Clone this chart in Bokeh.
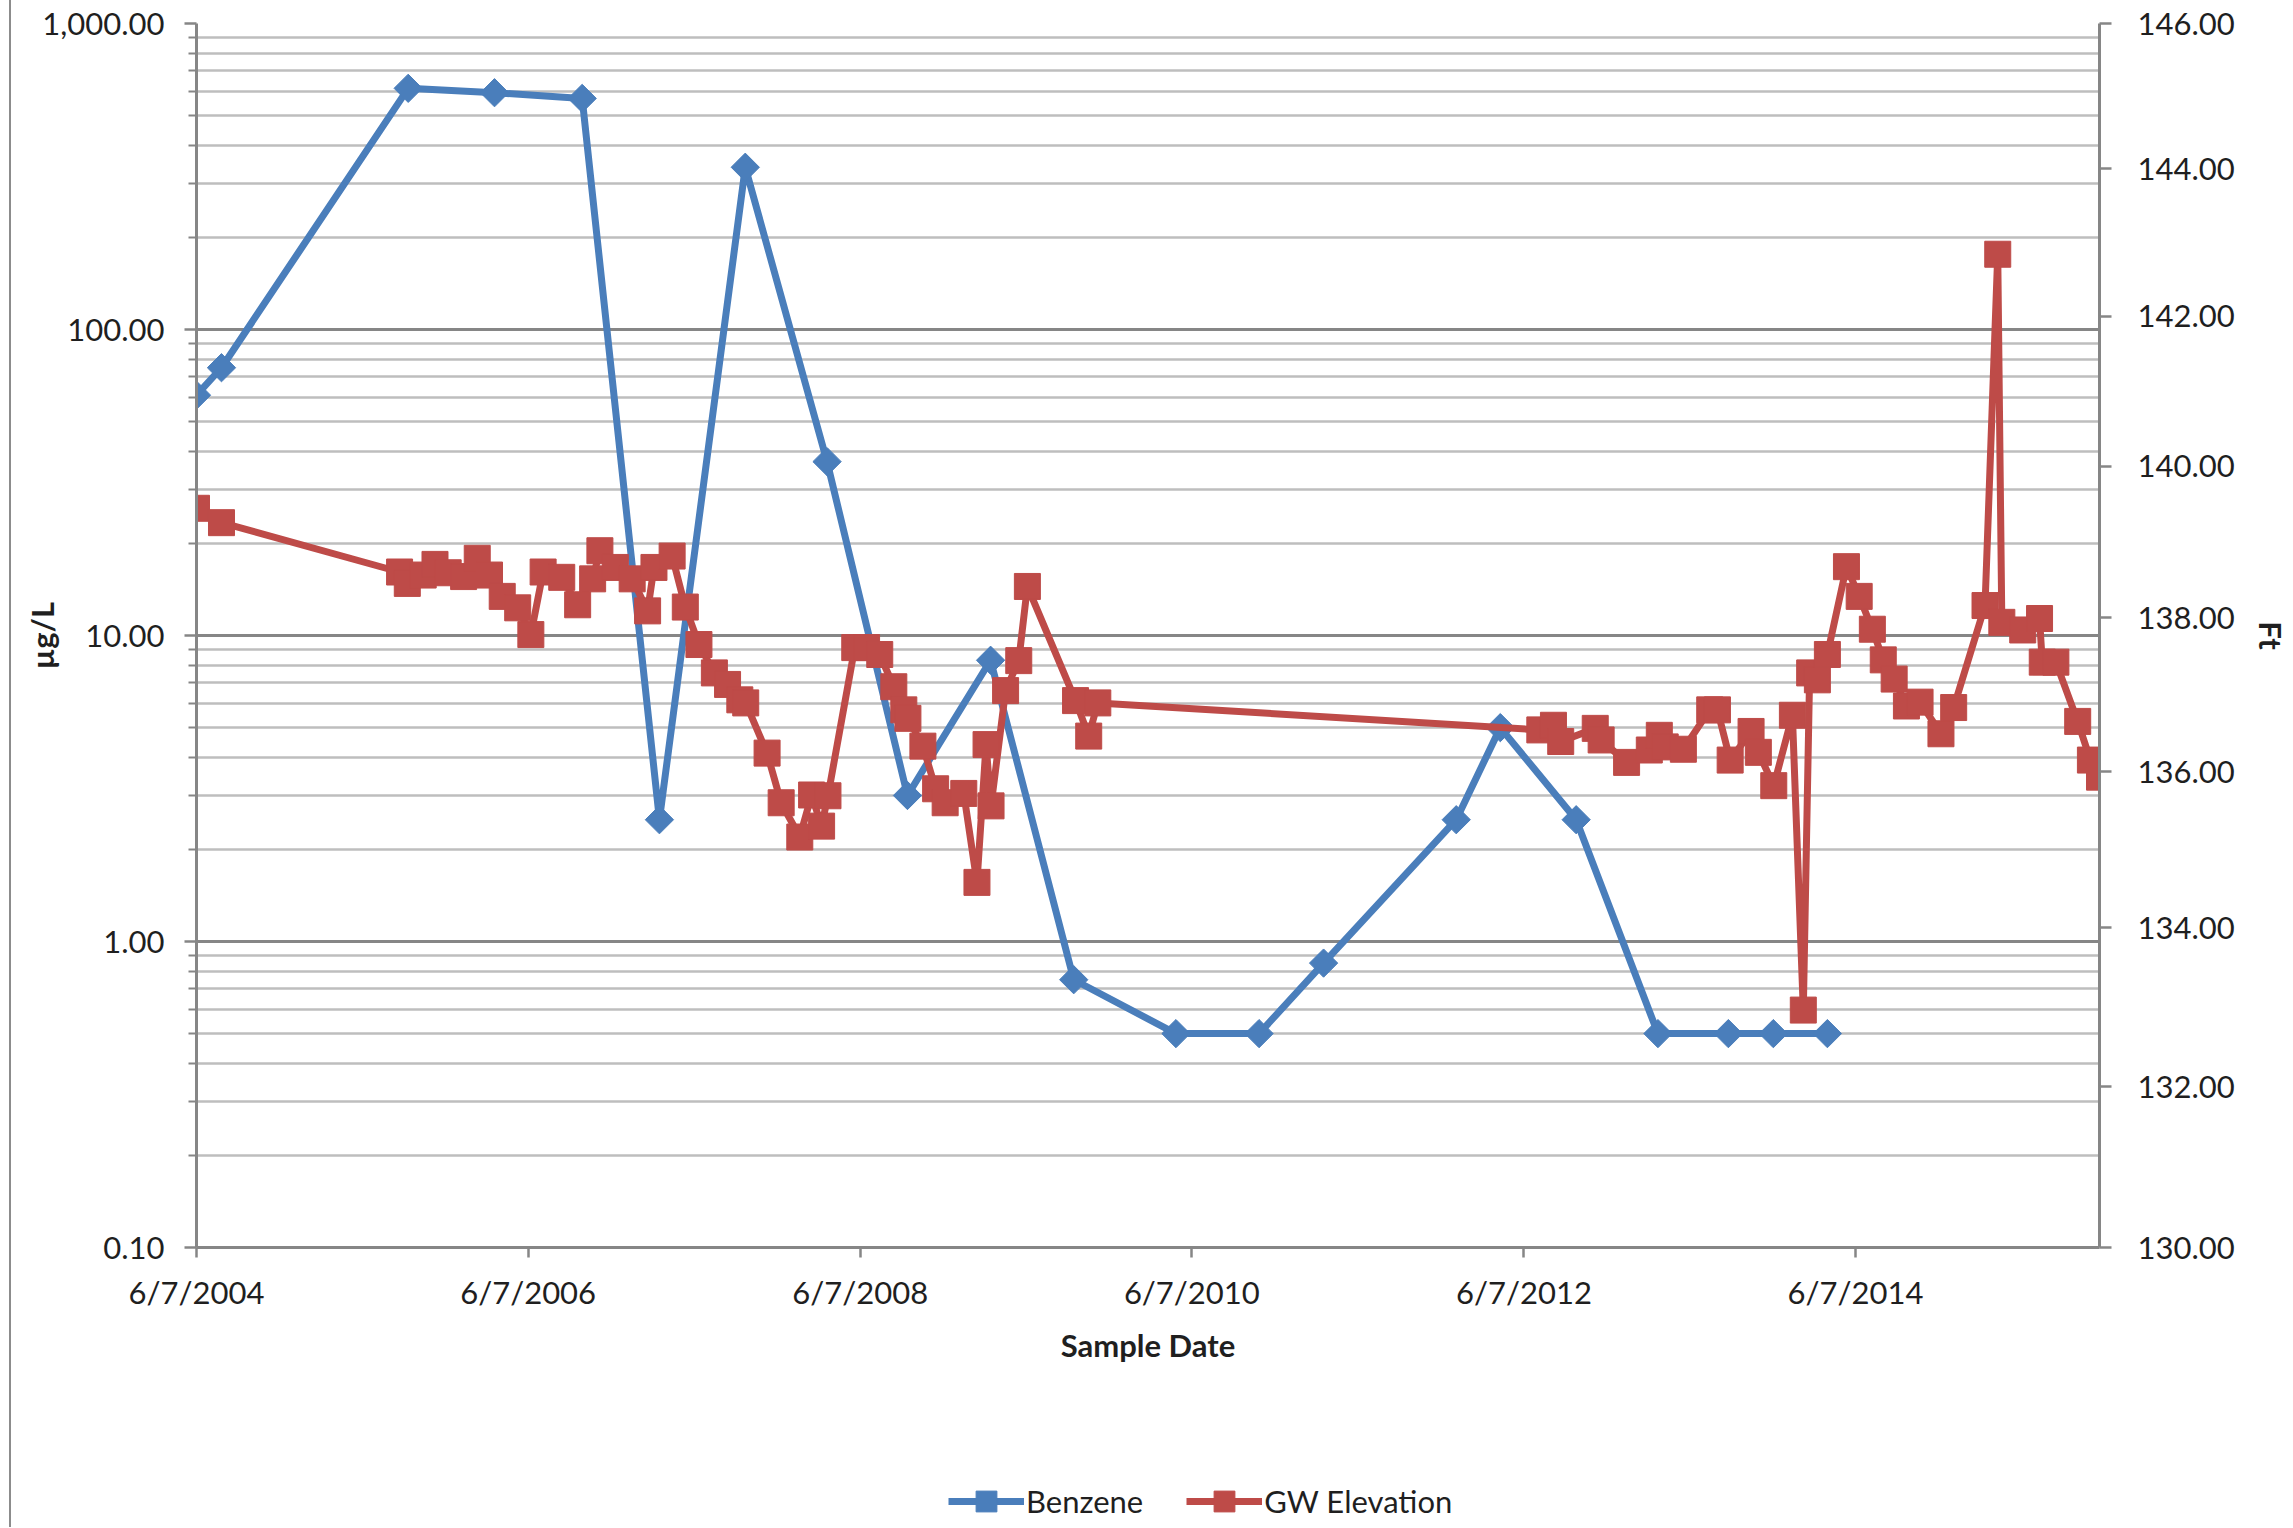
import datetime as dt
import numpy as np
from bokeh.plotting import figure
from bokeh.models import (Range1d, LinearAxis, FixedTicker, Legend, LegendItem, Spacer)
from bokeh.layouts import row, column
from bokeh.embed import file_html
from bokeh.resources import INLINE

# ---------------- data ----------------
benzene_dates = ["2004-06-07", "2004-08-01", "2005-09-16", "2006-03-25", "2006-10-04",
                 "2007-03-23", "2007-09-28", "2008-03-26", "2008-09-19", "2009-03-21",
                 "2009-09-20", "2010-05-03", "2010-11-02", "2011-03-24", "2012-01-10",
                 "2012-04-16", "2012-09-30", "2013-03-29", "2013-08-31", "2013-12-08",
                 "2014-04-06"]
benzene_ugL = [61, 75, 614, 594, 569, 2.5, 339, 37, 3.0, 8.3, 0.75, 0.5, 0.5, 0.85,
               2.5, 5.0, 2.5, 0.5, 0.5, 0.5, 0.5]

gw_dates = ["2004-06-07", "2004-08-01", "2005-08-28", "2005-09-14", "2005-10-19",
            "2005-11-14", "2005-12-13", "2006-01-16", "2006-02-15", "2006-03-14",
            "2006-04-11", "2006-05-15", "2006-06-13", "2006-07-10", "2006-08-20",
            "2006-09-24", "2006-10-27", "2006-11-12", "2006-12-16", "2007-01-22",
            "2007-02-25", "2007-03-11", "2007-04-20", "2007-05-19", "2007-06-18",
            "2007-07-22", "2007-08-20", "2007-09-16", "2007-09-29", "2007-11-15",
            "2007-12-16", "2008-01-26", "2008-02-21", "2008-03-14", "2008-03-28",
            "2008-05-26", "2008-06-21", "2008-07-20", "2008-08-20", "2008-09-11",
            "2008-09-20", "2008-10-23", "2008-11-20", "2008-12-11", "2009-01-21",
            "2009-02-19", "2009-03-11", "2009-03-22", "2009-04-23", "2009-05-22",
            "2009-06-10", "2009-09-24", "2009-10-23", "2009-11-12", "2012-07-12",
            "2012-08-11", "2012-08-27", "2012-11-11", "2012-11-24", "2013-01-19",
            "2013-03-10", "2013-04-01", "2013-04-14", "2013-05-24", "2013-07-21",
            "2013-08-07", "2013-09-04", "2013-10-20", "2013-11-05", "2013-12-09",
            "2014-01-19", "2014-02-12", "2014-02-26", "2014-03-15", "2014-04-06",
            "2014-05-18", "2014-06-15", "2014-07-14", "2014-08-07", "2014-08-31",
            "2014-09-27", "2014-10-27", "2014-12-12", "2015-01-09", "2015-03-19",
            "2015-04-16", "2015-04-25", "2015-06-10", "2015-07-17", "2015-07-23",
            "2015-08-22", "2015-10-09", "2015-11-06", "2015-11-26"]
gw_elev_ft = [139.44, 139.25, 138.60, 138.45, 138.56, 138.70, 138.59, 138.54, 138.78, 138.56,
              138.28, 138.13, 137.78, 138.60, 138.53, 138.17, 138.51, 138.88, 138.66, 138.51,
              138.09, 138.66, 138.81, 138.14, 137.65, 137.28, 137.13, 136.93, 136.89, 136.24,
              135.60, 135.16, 135.70, 135.30, 135.69, 137.61, 137.61, 137.52, 137.10, 136.80,
              136.69, 136.33, 135.78, 135.60, 135.72, 134.58, 136.35, 135.56, 137.05, 137.44,
              138.41, 136.92, 136.46, 136.89, 136.54, 136.60, 136.39, 136.56, 136.41, 136.12,
              136.28, 136.47, 136.32, 136.29, 136.80, 136.80, 136.15, 136.52, 136.25, 135.82,
              136.73, 132.96, 137.28, 137.19, 137.52, 138.67, 138.28, 137.85, 137.45, 137.20,
              136.85, 136.90, 136.49, 136.83, 138.16, 142.84, 137.94, 137.84, 137.99, 137.42,
              137.42, 136.65, 136.15, 135.93]

x_tick_dates = ["2004-06-07", "2006-06-07", "2008-06-07", "2010-06-07", "2012-06-07", "2014-06-07"]
x_tick_labels = ["6/7/2004", "6/7/2006", "6/7/2008", "6/7/2010", "6/7/2012", "6/7/2014"]
left_ticks = [0.1, 1, 10, 100, 1000]
left_tick_labels = ["0.10", "1.00", "10.00", "100.00", "1,000.00"]
right_ticks = [130, 132, 134, 136, 138, 140, 142, 144, 146]
right_tick_labels = ["130.00", "132.00", "134.00", "136.00", "138.00", "140.00", "142.00", "144.00", "146.00"]
series_names = ["Benzene", "GW Elevation"]

# ---------------- helpers ----------------
def to_dt(s):
    return dt.datetime.strptime(s, "%Y-%m-%d")

def to_ms(s):
    return (to_dt(s) - dt.datetime(1970, 1, 1)).total_seconds() * 1000.0

bx = [to_dt(s) for s in benzene_dates]
gx = [to_dt(s) for s in gw_dates]

BLUE = "#4A7EBB"
RED = "#BE4B48"
AXIS = "#868686"
MINOR = "#BEBEBE"
TXT = "#1F1F1F"
FONT = "Lato"
FS = "31px"

W = 2281
H_LEG = 56
H_MAIN = 1527 - H_LEG
B_LEFT = 185
B_RIGHT = 190

p = figure(width=W, height=H_MAIN,
           x_axis_type="datetime", y_axis_type="log",
           x_range=Range1d(min(gx), max(gx)),
           y_range=Range1d(left_ticks[0], left_ticks[-1]),
           output_backend="svg", toolbar_location=None,
           min_border_left=B_LEFT, min_border_right=B_RIGHT,
           min_border_top=23, min_border_bottom=H_MAIN - 1247)
p.outline_line_color = None
p.background_fill_color = "white"
p.border_fill_color = "white"

p.extra_y_ranges = {"ft": Range1d(right_ticks[0], right_ticks[-1])}

# left axis (log)
minor_log = [m * 10.0 ** e for e in range(-1, 3) for m in range(2, 10)]
lticker = FixedTicker(ticks=left_ticks, minor_ticks=minor_log)
ly = p.yaxis[0]
ly.ticker = lticker
ly.major_label_overrides = {t: l for t, l in zip(left_ticks, left_tick_labels)}
ly.axis_label = "µg/L"
ly.axis_label_standoff = -22
ly.major_tick_out = 12
ly.major_tick_in = 0
ly.minor_tick_out = 8
ly.minor_tick_in = 0
ly.minor_tick_line_color = AXIS
ly.minor_tick_line_width = 2
ly.major_label_standoff = 20

# grid
p.xgrid.visible = False
p.ygrid.ticker = lticker
p.ygrid.grid_line_color = AXIS
p.ygrid.grid_line_width = 3
p.ygrid.minor_grid_line_color = MINOR
p.ygrid.minor_grid_line_width = 2.3

# bottom axis
bx_axis = p.xaxis[0]
xt = [to_ms(s) for s in x_tick_dates]
bx_axis.ticker = FixedTicker(ticks=xt)
bx_axis.major_label_overrides = {t: l for t, l in zip(xt, x_tick_labels)}
bx_axis.axis_label = "Sample Date"
bx_axis.major_tick_out = 10
bx_axis.major_tick_in = 0
bx_axis.minor_tick_line_color = None
bx_axis.major_label_standoff = 15
bx_axis.axis_label_standoff = 12

# right axis
ry = LinearAxis(y_range_name="ft", ticker=FixedTicker(ticks=right_ticks), axis_label="Ft")
ry.major_label_overrides = {t: l for t, l in zip(right_ticks, right_tick_labels)}
ry.major_tick_out = 12
ry.major_tick_in = 0
ry.minor_tick_line_color = None
ry.major_label_standoff = 26
ry.axis_label_standoff = 14
p.add_layout(ry, "right")

for ax in [ly, bx_axis, ry]:
    ax.axis_line_color = AXIS
    ax.axis_line_width = 3
    ax.major_tick_line_color = AXIS
    ax.major_tick_line_width = 2.5
    ax.major_label_text_font = FONT
    ax.major_label_text_font_size = FS
    ax.major_label_text_color = TXT
    ax.axis_label_text_font = FONT
    ax.axis_label_text_font_size = FS
    ax.axis_label_text_font_style = "bold"
    ax.axis_label_text_color = TXT

# series
line_kw = dict(line_width=7, line_join="round")
b_mark = dict(marker="square", angle=np.pi / 4, size=20, fill_color=BLUE, line_color=BLUE)
g_mark = dict(marker="square", size=26, fill_color=RED, line_color=RED)

p.line(bx, benzene_ugL, line_color=BLUE, **line_kw)
p.scatter(bx, benzene_ugL, **b_mark)
p.line(gx, gw_elev_ft, y_range_name="ft", line_color=RED, **line_kw)
p.scatter(gx, gw_elev_ft, y_range_name="ft", **g_mark)

# ---------------- legend strip below the chart ----------------
# Its own small plot: the series are drawn again but fall outside its (1970) view,
# so only the legend keys show.
lf = figure(width=W, height=H_LEG, x_axis_type="datetime",
            x_range=Range1d(0, 1), y_range=Range1d(0, 1),
            x_axis_location=None, y_axis_location=None,
            output_backend="svg", toolbar_location=None,
            min_border_left=B_LEFT, min_border_right=B_RIGHT,
            min_border_top=0, min_border_bottom=0)
lf.outline_line_color = None
lf.xgrid.visible = False
lf.ygrid.visible = False
lb_line = lf.line(bx, benzene_ugL, line_color=BLUE, **line_kw)
lb_pts = lf.scatter(bx, benzene_ugL, **b_mark)
lg_line = lf.line(gx, gw_elev_ft, line_color=RED, **line_kw)
lg_pts = lf.scatter(gx, gw_elev_ft, **g_mark)

legend = Legend(items=[LegendItem(label=series_names[0], renderers=[lb_line, lb_pts]),
                       LegendItem(label=series_names[1], renderers=[lg_line, lg_pts])],
                orientation="horizontal", location=(752, 0),
                label_text_font=FONT, label_text_font_size=FS, label_text_color=TXT,
                glyph_width=76, glyph_height=52, label_standoff=2, spacing=43,
                padding=0, margin=0, background_fill_alpha=0, border_line_color=None)
lf.add_layout(legend, "center")

H_ALL = H_MAIN + H_LEG
layout = row(Spacer(width=9, height=H_ALL),
             Spacer(width=2, height=H_ALL, styles={"background-color": "#8C8C8C"}),
             column(p, lf))

open("out.html", "w").write(file_html(layout, INLINE))
